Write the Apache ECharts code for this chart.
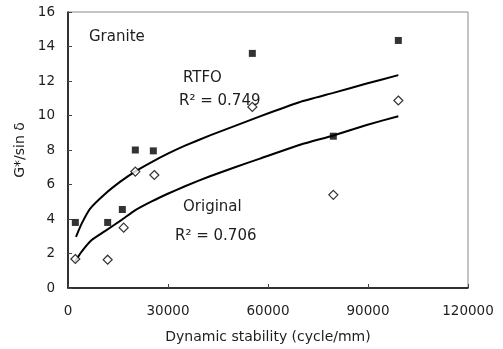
<!DOCTYPE html>
<html>
<head>
<meta charset="utf-8">
<script src="https://cdn.jsdelivr.net/npm/echarts@6/dist/echarts.min.js"></script>
<style>html,body{margin:0;padding:0;background:#fff}#c{width:503px;height:349px}</style>
</head>
<body>
<div id="c"></div>
<script>
// Measured points
const rtfoPoints = [[2200,3.8],[11900,3.8],[16300,4.55],[20200,8.0],[25600,7.95],[55300,13.6],[79600,8.8],[99100,14.35]];
const originalPoints = [[2200,1.68],[11900,1.64],[16700,3.5],[20200,6.75],[25900,6.55],[55300,10.5],[79600,5.4],[99100,10.87]];
// Trend curves
const rtfoTrend = [[2400,2.97],[4100,3.73],[6600,4.59],[11100,5.45],[15600,6.15],[20100,6.75],[25100,7.3],[30100,7.8],[35100,8.25],[42600,8.85],[50100,9.4],[57600,9.95],[69600,10.78],[79600,11.31],[89600,11.85],[99100,12.34]];
const originalTrend = [[2100,1.54],[4100,2.11],[7100,2.78],[11100,3.3],[16100,3.95],[20100,4.5],[25100,5.02],[30100,5.48],[35100,5.9],[42600,6.48],[50100,7.0],[57600,7.5],[69600,8.3],[79600,8.84],[89600,9.45],[99100,9.96]];
const xTicks = [0,30000,60000,90000,120000];
const yTicks = [0,2,4,6,8,10,12,14,16];

const FONT = 'DejaVu Sans';
const TXT = '#1e1e1e';
const chart = echarts.init(document.getElementById('c'), null, {renderer:'canvas'});
chart.setOption({
  animation:false,
  backgroundColor:'#fff',
  grid:{left:68,right:35,top:12,bottom:57,show:true,borderColor:'#8a8a8a',borderWidth:1,backgroundColor:'transparent'},
  xAxis:{type:'value',min:xTicks[0],max:xTicks[xTicks.length-1],interval:30000,
    name:'Dynamic stability (cycle/mm)',nameLocation:'middle',nameGap:42,
    nameTextStyle:{fontFamily:FONT,fontSize:14,color:TXT},
    axisLine:{show:true,lineStyle:{color:'#000',width:1.5}},
    axisTick:{show:true,inside:true,length:4,lineStyle:{color:'#444'}},
    axisLabel:{fontFamily:FONT,fontSize:13.5,color:TXT,margin:16,formatter:v=>String(v)},
    splitLine:{show:false}},
  yAxis:{type:'value',min:yTicks[0],max:yTicks[yTicks.length-1],interval:2,
    name:'G*/sin δ',nameLocation:'middle',nameGap:41,nameRotate:90,
    nameTextStyle:{fontFamily:FONT,fontSize:14,color:TXT},
    axisLine:{show:true,lineStyle:{color:'#000',width:1.5}},
    axisTick:{show:true,inside:true,length:4,lineStyle:{color:'#444'}},
    axisLabel:{fontFamily:FONT,fontSize:13.5,color:TXT,margin:13},
    splitLine:{show:false}},
  series:[
    {type:'line',data:rtfoTrend,smooth:0.15,symbol:'none',lineStyle:{color:'#000',width:2},z:2},
    {type:'line',data:originalTrend,smooth:0.15,symbol:'none',lineStyle:{color:'#000',width:2},z:2},
    {type:'scatter',data:rtfoPoints,symbol:'rect',symbolSize:7,itemStyle:{color:'#000'},z:3},
    {type:'scatter',data:originalPoints,symbol:'diamond',symbolSize:9,itemStyle:{color:'#fff',borderColor:'#000',borderWidth:1.2},z:3}
  ],
  graphic:[
    {type:'text',left:89,top:30,style:{text:'Granite',font:'15px "DejaVu Sans"',fill:TXT}},
    {type:'text',left:183,top:71,style:{text:'RTFO',font:'15px "DejaVu Sans"',fill:TXT}},
    {type:'text',left:179,top:94,style:{text:'R² = 0.749',font:'15px "DejaVu Sans"',fill:TXT}},
    {type:'text',left:183,top:200,style:{text:'Original',font:'15px "DejaVu Sans"',fill:TXT}},
    {type:'text',left:175,top:229,style:{text:'R² = 0.706',font:'15px "DejaVu Sans"',fill:TXT}}
  ]
});
</script>
</body>
</html>
